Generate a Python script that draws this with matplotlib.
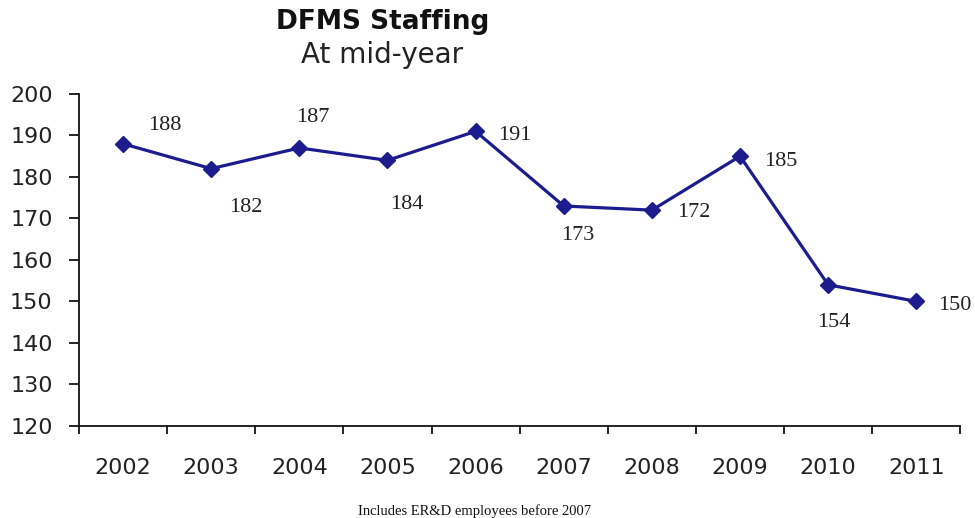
import matplotlib
matplotlib.use("Agg")
import matplotlib.pyplot as plt
import numpy as np

years = ["2002", "2003", "2004", "2005", "2006", "2007", "2008", "2009", "2010", "2011"]
staff = [188, 182, 187, 184, 191, 173, 172, 185, 154, 150]
# label offsets in points (dx, dy) relative to each marker
label_offsets = [(30, 13), (25, -28), (10, 22), (14, -32), (28, -3), (10, -21),
                 (30, -2), (29, -4), (4, -27), (28, -3)]
yticks = [120, 130, 140, 150, 160, 170, 180, 190, 200]

line_color = "#1c1c8e"

fig = plt.figure(figsize=(9.75, 5.18), dpi=100)
ax = fig.add_axes([0.081, 0.178, 0.904, 0.6405])

x = np.arange(len(years))
ax.plot(x, staff, color=line_color, lw=2.3, marker="D", ms=8,
        markerfacecolor=line_color, markeredgecolor=line_color, zorder=3)

for xi, v, (dx, dy) in zip(x, staff, label_offsets):
    ax.annotate(str(v), (xi, v), xytext=(dx, dy), textcoords="offset points",
                ha="center", va="center", fontsize=16,
                family="Liberation Serif", color="#222222", annotation_clip=False)

ax.set_xlim(-0.5, len(years) - 0.5)
ax.set_ylim(120, 200)
ax.set_yticks(yticks)
ax.set_yticklabels([str(t) for t in yticks], fontsize=16, color="#222222")
ax.tick_params(axis="y", direction="out", length=7, width=1.2, pad=12)

ax.set_xticks(x)
ax.set_xticklabels(years, fontsize=16, color="#222222")
ax.set_xticks(np.arange(-0.5, len(years)), minor=True)
ax.tick_params(axis="x", which="major", length=0, pad=23)
ax.tick_params(axis="x", which="minor", direction="out", length=6, width=1.2)

for s in ["top", "right"]:
    ax.spines[s].set_visible(False)
for s in ["left", "bottom"]:
    ax.spines[s].set_linewidth(1.3)
    ax.spines[s].set_color("#111111")

fig.text(0.392, 0.957, "DFMS Staffing", ha="center", va="center",
         fontsize=19, fontweight="bold", color="#111111")
fig.text(0.392, 0.893, "At mid-year", ha="center", va="center",
         fontsize=20, color="#222222")
fig.text(0.487, 0.013, "Includes ER&D employees before 2007", ha="center",
         va="center", fontsize=10.5, family="Liberation Serif", color="#111111")

fig.savefig("out.png", dpi=100)
